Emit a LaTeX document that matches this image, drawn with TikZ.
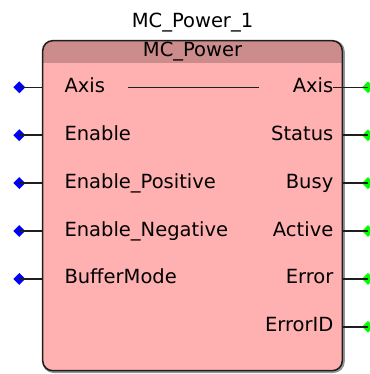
\documentclass[tikz,border=0pt]{standalone}
\usepackage{fontspec}
\setmainfont{DejaVu Sans}
\usetikzlibrary{shapes.geometric,positioning}
\definecolor{fbpink}{RGB}{255,176,176}
\definecolor{fbhead}{RGB}{204,140,140}
\definecolor{fbshadow}{RGB}{150,150,150}
\definecolor{fbline}{RGB}{30,30,30}
\tikzset{
  every picture/.style={line join=round, line cap=round},
  fbtext/.style={font=\fontsize{19.5}{22}\selectfont, inner sep=0pt, text=black},
  wire/.style={draw=fbline, line width=1.5pt, line cap=butt},
  pinin/.style={diamond, aspect=1, fill=blue, inner sep=0pt, minimum size=12pt},
  pinout/.style={diamond, aspect=1, fill=green, inner sep=0pt, minimum size=12pt},
}

\begin{document}
\begin{tikzpicture}[x=1pt,y=-1pt]
\useasboundingbox (0,0) rectangle (369,374);
% block body
\draw[fbshadow, line width=3pt, rounded corners=10pt] (43.7,41.7) rectangle (343.3,371.5);
\begin{scope}
\clip[rounded corners=10pt] (42.7,40.7) rectangle (342.3,370.7);
\fill[fbpink] (0,0) rectangle (369,374);
\fill[fbhead] (0,0) rectangle (369,62.7);
\end{scope}
\draw[fbline, line width=1.5pt, rounded corners=10pt] (42.7,40.7) rectangle (342.3,370.7);
% names
\node[fbtext, anchor=base] (instname) at (192.5,27.5) {MC\_Power\_1};
\node[fbtext, anchor=base] (fbtype) at (192.5,56.7) {MC\_Power};
% inputs
\foreach \i/\txt in {0/Axis,1/Enable,2/Enable\_Positive,3/Enable\_Negative,4/BufferMode}{
  \node[fbtext, anchor=base west] (in\i) at (64.3,{87.3+47.9*\i+5}) {\txt};
  \coordinate (edgein\i) at (42.7,{87.3+47.9*\i});
  \node[pinin] (pinin\i) at (19.3,{87.3+47.9*\i}) {};
  \draw[wire] (pinin\i.center) -- (edgein\i);
}
% outputs
\foreach \i/\txt in {0/Axis,1/Status,2/Busy,3/Active,4/Error,5/ErrorID}{
  \node[fbtext, anchor=base east] (out\i) at (333.5,{87.3+47.9*\i+5}) {\txt};
  \coordinate (edgeout\i) at ({ifthenelse(\i==0,333,342.3)},{87.3+47.9*\i});
  \node[pinout] (pinout\i) at (368,{87.3+47.9*\i}) {};
  \draw[wire] (edgeout\i) -- (pinout\i.center);
}
% axis through line
\coordinate (axisA) at ([xshift=23pt]in0.east);
\coordinate (axisB) at ([xshift=-33.7pt]out0.west);
\draw[wire] (axisA |- edgein0) -- (axisB |- edgein0);
\end{tikzpicture}
\end{document}
